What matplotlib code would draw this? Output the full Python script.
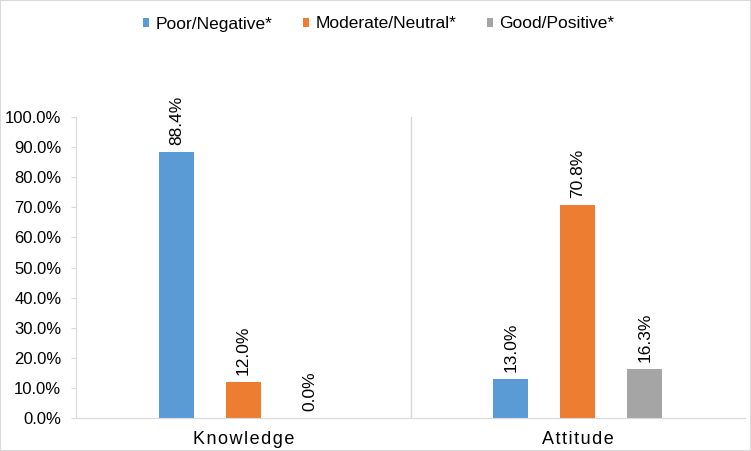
import matplotlib
matplotlib.use("Agg")
import matplotlib.pyplot as plt
import numpy as np

categories = ["Knowledge", "Attitude"]
series_names = ["Poor/Negative*", "Moderate/Neutral*", "Good/Positive*"]
poor = [88.4, 13.0]
moderate = [12.0, 70.8]
good = [0.0, 16.3]
colors = ["#5B9BD5", "#ED7D31", "#A5A5A5"]
yticks = [0, 10, 20, 30, 40, 50, 60, 70, 80, 90, 100]

plt.rcParams['font.family'] = ['Liberation Sans', 'DejaVu Sans']

fig = plt.figure(figsize=(7.51, 4.51), dpi=100)
ax = fig.add_axes([76/751, 1-418/451, (745-76)/751, 301/451])

x = np.arange(len(categories))
width = 0.105
offsets = [-0.2, 0.0, 0.2]
handles = []
for vals, name, c, off in zip([poor, moderate, good], series_names, colors, offsets):
    b = ax.bar(x + off, vals, width=width, color=c, label=name, zorder=2)
    handles.append(b)
    for xi, v in zip(x + off, vals):
        ax.annotate(f"{v:.1f}%", (xi, v), xytext=(0, 5), textcoords="offset points",
                    rotation=90, ha="center", va="bottom", fontsize=12.5, color="#000000")

ax.set_xlim(-0.5, 1.5)
ax.set_ylim(0, 100)
ax.set_yticks(yticks)
ax.set_yticklabels([f"{t:.1f}%" for t in yticks], fontsize=12)
ax.set_xticks([])
ax.tick_params(axis='y', length=3.6, color="#D9D9D9", pad=7)

for s in ["top", "right"]:
    ax.spines[s].set_visible(False)
ax.spines["left"].set_color("#D9D9D9")
ax.spines["bottom"].set_color("#D9D9D9")
ax.axvline(0.5, color="#D9D9D9", lw=1, zorder=1)

# letter-spaced category labels
for xi, cat in zip(x, categories):
    ax.text(xi, -22/301, "\u200a".join(cat), transform=ax.get_xaxis_transform(),
            ha="center", va="center", fontsize=13)

fig.legend(handles, series_names, loc="center", bbox_to_anchor=(378.5/751, 1-24/451),
           ncol=3, frameon=False, fontsize=12.5, handlelength=0.38, handleheight=0.38,
           columnspacing=1.75, handletextpad=0.35)

fig.patches.append(plt.Rectangle((0, 0), 1, 1, transform=fig.transFigure,
                                 fill=False, edgecolor="#D9D9D9", lw=1.5))
fig.savefig("out.png", dpi=100)
